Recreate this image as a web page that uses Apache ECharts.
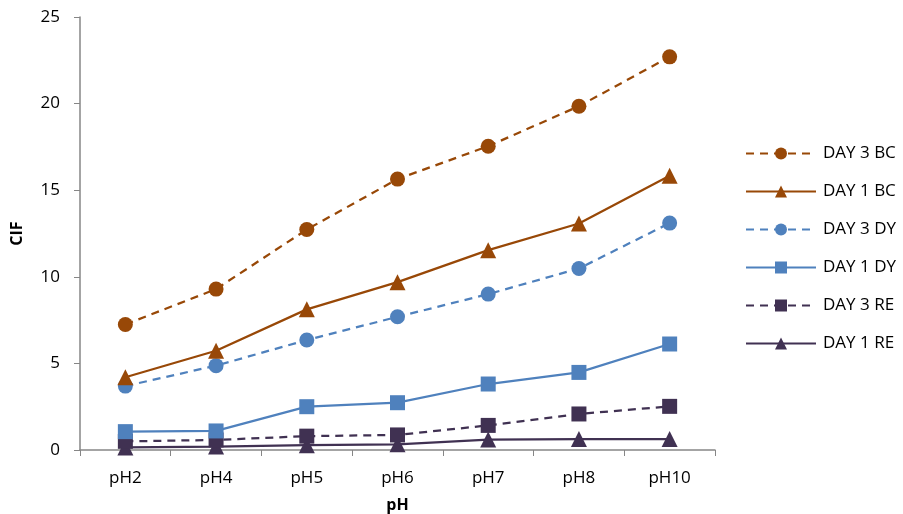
<!DOCTYPE html>
<html>
<head>
<meta charset="utf-8">
<script src="https://cdn.jsdelivr.net/npm/echarts@6/dist/echarts.min.js"></script>
<style>html,body{margin:0;padding:0;background:#fff;}#c{width:903px;height:514px;}</style>
</head>
<body>
<div id="c"></div>
<script>
const categories = ['pH2', 'pH4', 'pH5', 'pH6', 'pH7', 'pH8', 'pH10'];
const day3BC = [7.25, 9.29, 12.73, 15.64, 17.54, 19.85, 22.7];
const day1BC = [4.2, 5.73, 8.12, 9.69, 11.54, 13.08, 15.83];
const day3DY = [3.69, 4.87, 6.35, 7.69, 9.0, 10.48, 13.1];
const day1DY = [1.06, 1.1, 2.5, 2.73, 3.81, 4.48, 6.12];
const day3RE = [0.5, 0.58, 0.8, 0.87, 1.42, 2.08, 2.52];
const day1RE = [0.15, 0.2, 0.28, 0.33, 0.6, 0.63, 0.63];
const yTicks = [0, 5, 10, 15, 20, 25];

const BROWN = '#984807', BLUE = '#4F81BD', PURPLE = '#403152';
const FONT = 'Open Sans';
function mk(name, data, color, symbol, dashed) {
  return {
    name, type: 'line', data,
    symbol, symbolSize: symbol === 'triangle' ? 16 : 15,
    showSymbol: true,
    lineStyle: { color, width: 2.25, type: dashed ? [8, 6] : 'solid' },
    itemStyle: { color },
    emphasis: { disabled: true },
    animation: false
  };
}
const chart = echarts.init(document.getElementById('c'));
chart.setOption({
  animation: false,
  grid: { left: 80, right: 188, top: 17, bottom: 64, containLabel: false, outerBoundsMode: 'none' },
  legend: {
    orient: 'vertical', left: 745, top: 145, padding: 0,
    itemWidth: 70, itemHeight: 15, itemGap: 21,
    textStyle: { fontFamily: FONT, fontSize: 17, color: '#000', padding: [0, 0, 0, 2] },
    data: ['DAY 3 BC', 'DAY 1 BC', 'DAY 3 DY', 'DAY 1 DY', 'DAY 3 RE', 'DAY 1 RE']
  },
  xAxis: {
    type: 'category', data: categories, boundaryGap: true,
    name: 'pH', nameLocation: 'middle', nameGap: 47,
    nameTextStyle: { fontFamily: FONT, fontWeight: 'bold', fontSize: 16, color: '#000' },
    axisLine: { lineStyle: { color: '#868686', width: 1.5 } },
    axisTick: { show: true, alignWithLabel: false, length: 6, lineStyle: { color: '#868686' } },
    axisLabel: { fontFamily: FONT, fontSize: 17, color: '#000', margin: 20 },
    splitLine: { show: false }
  },
  yAxis: {
    type: 'value', min: yTicks[0], max: yTicks[yTicks.length - 1], interval: 5,
    name: 'CIF', nameLocation: 'middle', nameGap: 55, nameRotate: 90,
    nameTextStyle: { fontFamily: FONT, fontWeight: 'bold', fontSize: 16, color: '#000' },
    axisLine: { show: true, lineStyle: { color: '#868686', width: 1.5 } },
    axisTick: { show: true, length: 6, lineStyle: { color: '#868686' } },
    axisLabel: { fontFamily: FONT, fontSize: 17, color: '#000', margin: 20 },
    splitLine: { show: false }
  },
  series: [
    mk('DAY 1 RE', day1RE, PURPLE, 'triangle', false),
    mk('DAY 3 RE', day3RE, PURPLE, 'rect', true),
    mk('DAY 1 DY', day1DY, BLUE, 'rect', false),
    mk('DAY 3 DY', day3DY, BLUE, 'circle', true),
    mk('DAY 1 BC', day1BC, BROWN, 'triangle', false),
    mk('DAY 3 BC', day3BC, BROWN, 'circle', true)
  ]
});
</script>
</body>
</html>
